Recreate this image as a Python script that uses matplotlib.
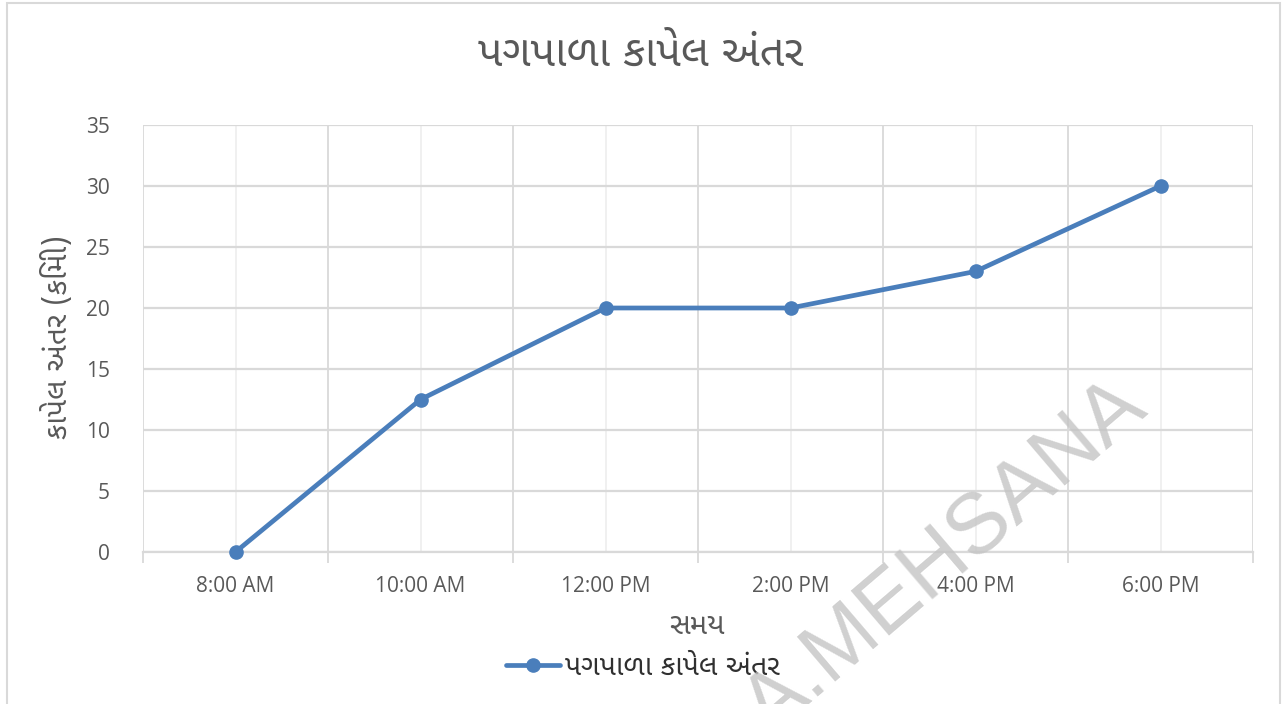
import matplotlib
matplotlib.use("Agg")
import matplotlib.pyplot as plt
from matplotlib import font_manager
from matplotlib.ft2font import FT2Font
from matplotlib.patches import Rectangle

# Chart data
times = ["8:00 AM", "10:00 AM", "12:00 PM", "2:00 PM", "4:00 PM", "6:00 PM"]
distance_km = [0, 12.5, 20, 20, 23, 30]
y_ticks = [0, 5, 10, 15, 20, 25, 30, 35]

title_text = "પગપાળા કાપેલ અંતર"
series_name = "પગપાળા કાપેલ અંતર"
x_label = "સમય"
y_label = "કાપેલ અંતર (કિમી)"
watermark = "A.MEHSANA"

PREFERRED = ["noto sans gujarati", "lohit gujarati", "shruti", "noto serif gujarati",
             "gujarati", "rekha", "padmaa", "aakar", "kalapi", "samyak",
             "freesans", "freeserif", "nirmala", "arial unicode"]


def find_gujarati_family():
    """Pick the best installed family that covers Gujarati letters."""
    found = []
    seen = set()
    for entry in font_manager.fontManager.ttflist:
        if entry.fname in seen:
            continue
        seen.add(entry.fname)
        try:
            ft = FT2Font(entry.fname)
            if ft.get_char_index(0x0AAA) and ft.get_char_index(0x0A95):
                found.append(entry.name)
        except Exception:
            continue
    if not found:
        return None

    def rank(name):
        low = name.lower()
        if "unifont" in low:
            return 1000
        for i, key in enumerate(PREFERRED):
            if key in low:
                return i
        return 500

    return sorted(found, key=rank)[0]


guj = find_gujarati_family()
latin = "Open Sans"
guj_family = ([guj] if guj else []) + [latin, "DejaVu Sans"]

TEXT_GREY = "#595959"
GRID = "#d9d9d9"
GRID_LIGHT = "#efefef"
BLUE = "#4a7ebb"

W, H = 1282, 704
fig = plt.figure(figsize=(W / 100, H / 100), dpi=100)
fig.patch.set_facecolor("white")

# outer chart border
fig.patches.append(Rectangle((7 / W, -0.02), (1280 - 7) / W, (701 / H) + 0.02,
                             transform=fig.transFigure, fill=False,
                             edgecolor=GRID, linewidth=1.5, zorder=0))

left, right, top, bottom = 143, 1253, 125, 552
ax = fig.add_axes([left / W, (H - bottom) / H, (right - left) / W, (bottom - top) / H])

x = list(range(len(times)))
ax.set_xlim(-0.5, len(times) - 0.5)
ax.set_ylim(0, 35)

# category boundaries carry the stronger grid and the tick marks
ax.set_xticks([i - 0.5 for i in range(len(times) + 1)], minor=True)
ax.set_xticks(x)
ax.set_xticklabels(times, fontsize=15, color=TEXT_GREY, fontfamily=latin)
ax.set_yticks(y_ticks)
ax.set_yticklabels([str(v) for v in y_ticks], fontsize=15, color=TEXT_GREY,
                   fontfamily=latin)

ax.tick_params(axis="x", which="major", length=0, pad=17)
ax.tick_params(axis="x", which="minor", length=8, width=1.3, color=GRID,
               direction="out")
ax.tick_params(axis="y", length=0, pad=24)

ax.grid(axis="y", which="major", color=GRID, linewidth=1.6)
ax.grid(axis="x", which="minor", color=GRID, linewidth=1.3)
ax.grid(axis="x", which="major", color=GRID_LIGHT, linewidth=1.3)
ax.set_axisbelow(True)

for side in ("top", "right", "left"):
    ax.spines[side].set_visible(False)
ax.spines["bottom"].set_color(GRID)
ax.spines["bottom"].set_linewidth(1.6)

line, = ax.plot(x, distance_km, color=BLUE, linewidth=3.4, marker="o",
                markersize=9.5, markerfacecolor=BLUE, markeredgecolor=BLUE,
                solid_capstyle="round", zorder=3, label=series_name,
                clip_on=False)

fig.text(641 / W, (H - 55) / H, title_text, ha="center", va="center",
         fontsize=31, color=TEXT_GREY, family=guj_family)
fig.text(58 / W, (H - 337) / H, y_label, ha="center", va="center",
         rotation=90, fontsize=21.5, color=TEXT_GREY, family=guj_family)
fig.text(697 / W, (H - 626) / H, x_label, ha="center", va="center",
         fontsize=21, color=TEXT_GREY, family=guj_family)

leg = fig.legend(handles=[line], loc="center", bbox_to_anchor=(643 / W, (H - 668) / H),
                 frameon=False, handlelength=1.9, handletextpad=0.15,
                 prop={"family": guj_family, "size": 20.5})
for t in leg.get_texts():
    t.set_color("#303030")

# faint diagonal watermark
fig.text(1110 / W, (H - 366) / H, watermark, ha="right", va="top",
         rotation=40.5, rotation_mode="anchor", fontsize=61,
         family="Liberation Sans", color="#c4c4c4", alpha=0.8, zorder=10)

fig.savefig("out.png", dpi=100, facecolor="white")
